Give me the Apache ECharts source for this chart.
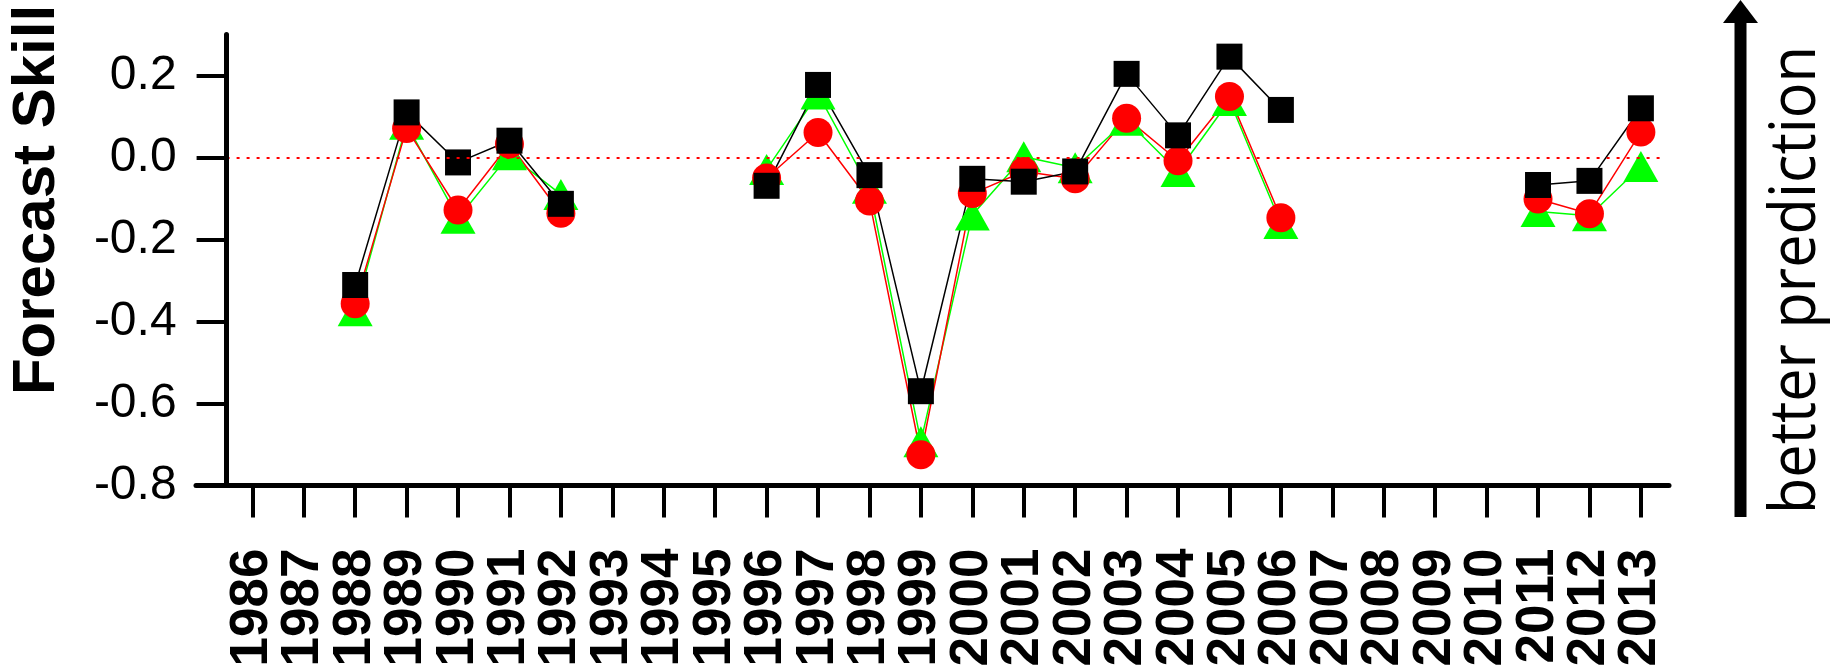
<!DOCTYPE html>
<html>
<head>
<meta charset="utf-8">
<script src="https://cdn.jsdelivr.net/npm/echarts@6/dist/echarts.min.js"></script>
<style>
html,body{margin:0;padding:0;background:#fff;}
#c{width:1836px;height:671px;}
</style>
</head>
<body>
<div id="c"></div>
<script>
const years = ['1986','1987','1988','1989','1990','1991','1992','1993','1994','1995','1996','1997','1998','1999','2000','2001','2002','2003','2004','2005','2006','2007','2008','2009','2010','2011','2012','2013'];
const yTicks = [-0.8,-0.6,-0.4,-0.2,0.0,0.2];
const blackVals = [null,null,-0.311,0.110,-0.012,0.041,-0.113,null,null,null,-0.069,0.177,-0.043,-0.570,-0.052,-0.059,-0.034,0.204,0.054,0.246,0.116,null,null,null,null,-0.067,-0.057,0.120];
const redVals   = [null,null,-0.357,0.071,-0.128,0.033,-0.136,null,null,null,-0.050,0.061,-0.106,-0.725,-0.088,-0.034,-0.052,0.096,-0.008,0.149,-0.147,null,null,null,null,-0.101,-0.137,0.062];
const greenVals = [null,null,-0.374,0.081,-0.148,0.007,-0.090,null,null,null,-0.029,0.155,-0.075,-0.693,-0.140,0.002,-0.025,0.091,-0.034,0.139,-0.161,null,null,null,null,-0.132,-0.142,-0.022];

const FONT = 'Liberation Sans, Arial, sans-serif';
const chart = echarts.init(document.getElementById('c'), null, {renderer: 'canvas'});
chart.setOption({
  animation: false,
  backgroundColor: '#fff',
  grid: [
    {left: 226.6, right: 169.4, top: 34.5, bottom: 185.5, containLabel: false, outerBoundsMode: 'none'},
    {left: 196, right: 167, top: 34.5, bottom: 185.5, containLabel: false, outerBoundsMode: 'none'}
  ],
  xAxis: [
    {
      gridIndex: 0,
      type: 'category',
      data: years,
      boundaryGap: true,
      axisLine: {show: false, onZero: false},
      axisTick: {show: true, alignWithLabel: true, interval: 0, length: 32, lineStyle: {color: '#000', width: 4}},
      axisLabel: {
        interval: 0, rotate: 90, margin: 63,
        fontSize: 53, fontWeight: 'bold', fontFamily: FONT, color: '#000'
      },
      splitLine: {show: false}
    },
    {
      gridIndex: 1,
      type: 'value', min: 0, max: 1,
      axisLine: {show: true, onZero: false, lineStyle: {color: '#000', width: 5}},
      axisTick: {show: false},
      axisLabel: {show: false},
      splitLine: {show: false}
    }
  ],
  yAxis: [
    {
      gridIndex: 0,
      type: 'value',
      min: -0.8,
      max: 0.3,
      z: 10,
      axisLine: {show: true, onZero: false, lineStyle: {color: '#000', width: 5}},
      axisTick: {show: true, customValues: yTicks, length: 30, lineStyle: {color: '#000', width: 4}},
      axisLabel: {
        customValues: yTicks, margin: 50,
        fontSize: 48, fontFamily: FONT, color: '#000',
        formatter: v => v.toFixed(1)
      },
      splitLine: {show: false}
    },
    {
      gridIndex: 1, type: 'value', min: -0.8, max: 0.3, show: false
    }
  ],
  series: [
    {
      type: 'line', xAxisIndex: 0, yAxisIndex: 0, data: greenVals, connectNulls: false,
      symbol: 'triangle', symbolSize: [35, 31],
      itemStyle: {color: '#00ff00'}, lineStyle: {color: '#00ff00', width: 1.5},
      emphasis: {disabled: true},
      markLine: {
        silent: true, symbol: 'none', label: {show: false},
        lineStyle: {color: '#ff0000', type: [3, 7], width: 2},
        data: [{yAxis: 0}]
      }
    },
    {
      type: 'line', xAxisIndex: 0, yAxisIndex: 0, data: redVals, connectNulls: false,
      symbol: 'circle', symbolSize: 29,
      itemStyle: {color: '#ff0000'}, lineStyle: {color: '#ff0000', width: 1.5},
      emphasis: {disabled: true}
    },
    {
      type: 'line', xAxisIndex: 0, yAxisIndex: 0, data: blackVals, connectNulls: false,
      symbol: 'rect', symbolSize: 26,
      itemStyle: {color: '#000000'}, lineStyle: {color: '#000000', width: 1.5},
      emphasis: {disabled: true}
    }
  ],
  graphic: [
    {
      type: 'text', x: 37, y: 200, rotation: Math.PI / 2,
      style: {text: 'Forecast Skill', fontSize: 60, fontWeight: 'bold', fontFamily: FONT, fill: '#000', align: 'center', verticalAlign: 'middle'}
    },
    {
      type: 'rect', shape: {x: 1734.5, y: 20, width: 12, height: 497}, style: {fill: '#000'}
    },
    {
      type: 'polygon', shape: {points: [[1740.5, 0], [1723, 23], [1758, 23]]}, style: {fill: '#000'}
    },
    {
      type: 'text', x: 1797, y: 280, rotation: Math.PI / 2, scaleX: 0.93,
      style: {text: 'better prediction', fontSize: 64, fontFamily: 'Open Sans, sans-serif', fill: '#000', align: 'center', verticalAlign: 'middle'}
    }
  ]
});
</script>
</body>
</html>
